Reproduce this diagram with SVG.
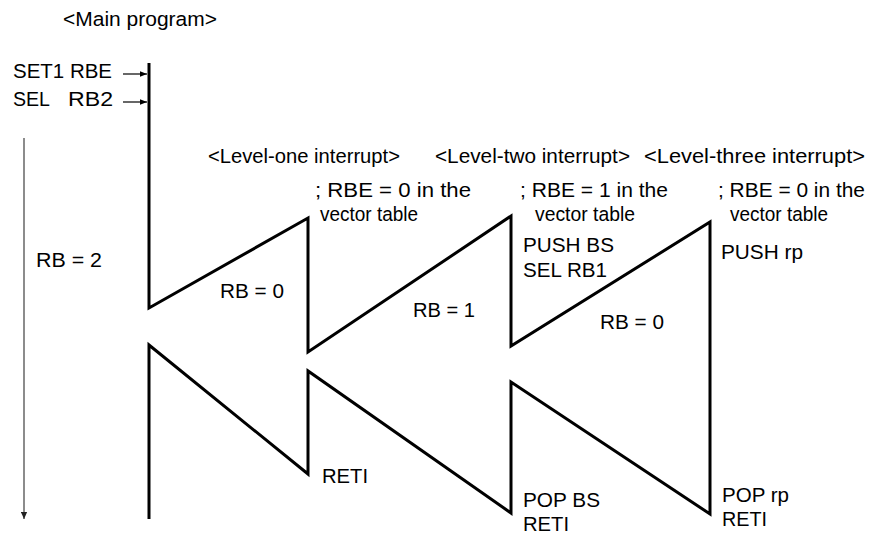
<svg xmlns="http://www.w3.org/2000/svg" width="871" height="536" viewBox="0 0 871 536">
<defs>
<style>
text{font-family:"Liberation Sans",Arial,sans-serif;font-size:20.5px;fill:#000;}
.flow{fill:none;stroke:#000;stroke-width:3;stroke-linejoin:miter;}
.small{stroke:#000;stroke-width:1.2;fill:none;}
.time{stroke:#666;stroke-width:1.5;fill:none;}
</style>
<marker id="ah" viewBox="0 0 10 10" refX="10" refY="5" markerWidth="10" markerHeight="7" markerUnits="userSpaceOnUse" orient="auto">
<path d="M0,1 L10,5 L0,9 Z" fill="#000"/>
</marker>
<marker id="ahg" viewBox="0 0 10 10" refX="10" refY="5" markerWidth="10" markerHeight="7" markerUnits="userSpaceOnUse" orient="auto">
<path d="M0,0.5 L10,5 L0,9.5 Z" fill="#222"/>
</marker>
</defs>
<rect width="871" height="536" fill="#fff"/>
<g id="connectors">
<polyline class="flow" points="149,63 149,308 308,218 308,352 511,216 511,346 710,222 710,514 511,382 511,513 308,371 308,474 149,345 149,519"/>
<line class="small" x1="123" y1="74" x2="147" y2="74" marker-end="url(#ah)"/>
<line class="small" x1="123" y1="102" x2="147" y2="102" marker-end="url(#ah)"/>
<line class="time" x1="24" y1="138" x2="24" y2="519" marker-end="url(#ahg)"/>
</g>
<g id="main">
<text x="63" y="26" textLength="154" lengthAdjust="spacingAndGlyphs">&lt;Main program&gt;</text>
<text x="13" y="78" textLength="99" lengthAdjust="spacingAndGlyphs">SET1 RBE</text>
<text x="13" y="106" textLength="37" lengthAdjust="spacingAndGlyphs">SEL</text>
<text x="68" y="106" textLength="45" lengthAdjust="spacingAndGlyphs">RB2</text>
<text x="36" y="267" textLength="66" lengthAdjust="spacingAndGlyphs">RB = 2</text>
</g>
<g id="level1">
<text x="208" y="163" textLength="192" lengthAdjust="spacingAndGlyphs">&lt;Level-one interrupt&gt;</text>
<text x="315" y="197" textLength="156" lengthAdjust="spacingAndGlyphs">; RBE = 0 in the</text>
<text x="320" y="221" textLength="98" lengthAdjust="spacingAndGlyphs">vector table</text>
<text x="220" y="298" textLength="64" lengthAdjust="spacingAndGlyphs">RB = 0</text>
<text x="322" y="483" textLength="46" lengthAdjust="spacingAndGlyphs">RETI</text>
</g>
<g id="level2">
<text x="435" y="163" textLength="195" lengthAdjust="spacingAndGlyphs">&lt;Level-two interrupt&gt;</text>
<text x="520" y="197" textLength="148" lengthAdjust="spacingAndGlyphs">; RBE = 1 in the</text>
<text x="535" y="221" textLength="100" lengthAdjust="spacingAndGlyphs">vector table</text>
<text x="523" y="252" textLength="91" lengthAdjust="spacingAndGlyphs">PUSH BS</text>
<text x="523" y="277" textLength="84" lengthAdjust="spacingAndGlyphs">SEL RB1</text>
<text x="413" y="317" textLength="62" lengthAdjust="spacingAndGlyphs">RB = 1</text>
<text x="523" y="507" textLength="77" lengthAdjust="spacingAndGlyphs">POP BS</text>
<text x="523" y="531" textLength="46" lengthAdjust="spacingAndGlyphs">RETI</text>
</g>
<g id="level3">
<text x="644" y="163" textLength="221" lengthAdjust="spacingAndGlyphs">&lt;Level-three interrupt&gt;</text>
<text x="718" y="197" textLength="147" lengthAdjust="spacingAndGlyphs">; RBE = 0 in the</text>
<text x="730" y="221" textLength="98" lengthAdjust="spacingAndGlyphs">vector table</text>
<text x="721" y="259" textLength="82" lengthAdjust="spacingAndGlyphs">PUSH rp</text>
<text x="600" y="329" textLength="64" lengthAdjust="spacingAndGlyphs">RB = 0</text>
<text x="722" y="502" textLength="67" lengthAdjust="spacingAndGlyphs">POP rp</text>
<text x="722" y="526" textLength="45" lengthAdjust="spacingAndGlyphs">RETI</text>
</g>
</svg>
